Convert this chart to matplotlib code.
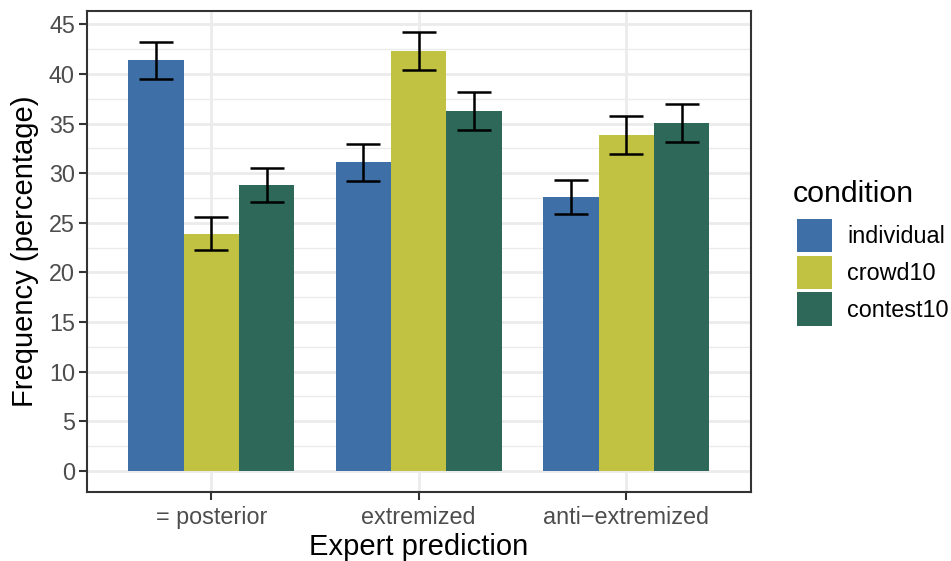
import matplotlib
matplotlib.use("Agg")
import matplotlib.pyplot as plt
from matplotlib.patches import Patch
import numpy as np

plt.rcParams['font.family'] = ['Liberation Sans', 'DejaVu Sans']

categories = ["= posterior", "extremized", "anti\u2212extremized"]
conditions = ["individual", "crowd10", "contest10"]
colors = ["#3F6FA7", "#C2C242", "#2E6858"]

means = {
    "individual": [41.40, 31.13, 27.60],
    "crowd10":    [23.87, 42.31, 33.85],
    "contest10":  [28.81, 36.27, 35.06],
}
err_low = {
    "individual": [39.46, 29.25, 25.86],
    "crowd10":    [22.23, 40.43, 31.90],
    "contest10":  [27.10, 34.35, 33.14],
}
err_high = {
    "individual": [43.18, 32.94, 29.31],
    "crowd10":    [25.62, 44.26, 35.76],
    "contest10":  [30.49, 38.15, 36.94],
}
yticks = [0, 5, 10, 15, 20, 25, 30, 35, 40, 45]

W, H = 951, 561
fig = plt.figure(figsize=(W / 100, H / 100), dpi=100)
ax = fig.add_axes([86.7 / W, 1 - 491.7 / H, (750.7 - 86.7) / W, (491.7 - 10.7) / H])

x = np.arange(1, len(categories) + 1)
bw = 0.8 / 3
for i, c in enumerate(conditions):
    pos = x + (i - 1) * bw
    m = np.array(means[c])
    lo = m - np.array(err_low[c])
    hi = np.array(err_high[c]) - m
    ax.bar(pos, m, width=bw, color=colors[i], zorder=2, linewidth=0)
    ax.errorbar(pos, m, yerr=[lo, hi], fmt='none', ecolor='black',
                elinewidth=1.8, capsize=12.3, capthick=1.8, zorder=3)

ax.set_xlim(0.4, 3.6)
ax.set_ylim(-2.1, 46.37)
ax.set_xticks(x)
ax.set_xticklabels(categories)
ax.set_yticks(yticks)
ax.set_yticks(np.arange(2.5, 46, 5), minor=True)
ax.yaxis.grid(True, which='major', color='#EBEBEB', linewidth=2.0, zorder=0)
ax.yaxis.grid(True, which='minor', color='#EBEBEB', linewidth=1.0, zorder=0)
ax.xaxis.grid(True, which='major', color='#EBEBEB', linewidth=2.0, zorder=0)
ax.set_axisbelow(True)
ax.tick_params(axis='both', which='major', labelsize=16.8, labelcolor='#4D4D4D',
               color='#333333', length=5.5, width=1.5, pad=3)
ax.tick_params(axis='x', which='major', pad=4.5)
ax.tick_params(axis='y', which='minor', length=0)
for s in ax.spines.values():
    s.set_color('#333333')
    s.set_linewidth(1.5)

ax.set_xlabel("Expert prediction", fontsize=21, color='black', labelpad=3)
ax.set_ylabel("Frequency (percentage)", fontsize=21, color='black', labelpad=7)

fig.text(793 / W, 1 - 201.5 / H, "condition", fontsize=21.9, color='black',
         ha='left', va='baseline')

handles = [Patch(facecolor=colors[i], edgecolor='none', label=c) for i, c in enumerate(conditions)]
leg = fig.legend(handles=handles, loc='upper left',
                 bbox_to_anchor=(797 / W, 1 - 219 / H), frameon=False,
                 fontsize=16.8, handlelength=1.48, handleheight=1.83,
                 handletextpad=0.68, labelspacing=0.14, borderaxespad=0,
                 borderpad=0.0)

fig.savefig("out.png", dpi=100)
